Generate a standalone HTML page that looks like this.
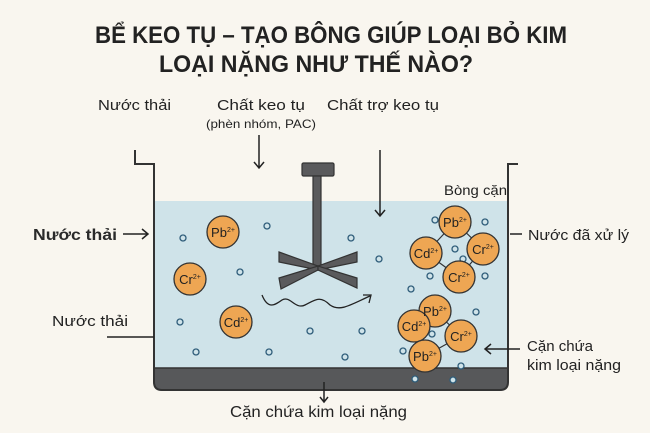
<!DOCTYPE html>
<html><head><meta charset="utf-8"><style>
html,body{margin:0;padding:0;background:#f9f6ef;}
svg{display:block;}
text{font-family:"Liberation Sans",sans-serif;fill:#222;}
</style></head><body>
<svg width="650" height="433" viewBox="0 0 650 433" xmlns="http://www.w3.org/2000/svg">
<rect width="650" height="433" fill="#f9f6ef"/>
<text x="331" y="43" font-size="24" font-weight="bold" text-anchor="middle" textLength="472" lengthAdjust="spacingAndGlyphs">BỂ KEO TỤ – TẠO BÔNG GIÚP LOẠI BỎ KIM</text>
<text x="316" y="72" font-size="24" font-weight="bold" text-anchor="middle" textLength="314" lengthAdjust="spacingAndGlyphs">LOẠI NẶNG NHƯ THẾ NÀO?</text>

<text x="98" y="110" font-size="15" textLength="73" lengthAdjust="spacingAndGlyphs">Nước thải</text>
<text x="217" y="110" font-size="15" textLength="88" lengthAdjust="spacingAndGlyphs">Chất keo tụ</text>
<text x="206" y="128" font-size="12" textLength="110" lengthAdjust="spacingAndGlyphs">(phèn nhóm, PAC)</text>
<text x="327" y="110" font-size="15" textLength="112" lengthAdjust="spacingAndGlyphs">Chất trợ keo tụ</text>

<rect x="154" y="201" width="354" height="167" fill="#cfe3e9"/>
<path d="M154 368 H508 V382 Q508 390 500 390 H162 Q154 390 154 382 Z" fill="#57585a" stroke="#333" stroke-width="1.5"/>
<path d="M135 150 V164 H154 V382 Q154 390 162 390 H500 Q508 390 508 382 V164 H518" fill="none" stroke="#333" stroke-width="2"/>

<g stroke="#222" stroke-width="1.5" fill="none">
<path d="M259 135 V168 M254 162 L259 168 L264 162"/>
<path d="M380 150 V216 M375 210 L380 216 L385 210"/>
<path d="M123 234 H148 M142 229 L148 234 L142 239"/>
<path d="M107 337 H154"/>
<path d="M510 234 H522"/>
<path d="M520 349 H485 M491 344 L485 349 L491 354"/>
<path d="M324 382 V402 M320 397 L324 402 L328 397"/>
</g>

<text x="33" y="240" font-size="16" font-weight="600" textLength="84" lengthAdjust="spacingAndGlyphs" style="font-weight:bold;fill:#2a2a2a">Nước thải</text>
<text x="52" y="326" font-size="15" textLength="76" lengthAdjust="spacingAndGlyphs">Nước thải</text>
<text x="444" y="195" font-size="14" textLength="63" lengthAdjust="spacingAndGlyphs">Bòng cặn</text>
<text x="528" y="240" font-size="15" textLength="101" lengthAdjust="spacingAndGlyphs">Nước đã xử lý</text>
<text x="527" y="351" font-size="15" textLength="66" lengthAdjust="spacingAndGlyphs">Cặn chứa</text>
<text x="527" y="370" font-size="15" textLength="94" lengthAdjust="spacingAndGlyphs">kim loại nặng</text>
<text x="230" y="417" font-size="16" textLength="177" lengthAdjust="spacingAndGlyphs">Cặn chứa kim loại nặng</text>

<g fill="#5a5a5c" stroke="#333" stroke-width="1.2">
<rect x="302" y="163" width="32" height="13" rx="1.5"/>
<rect x="313" y="176" width="8" height="92"/>
<polygon points="279,252 318,266 318,270 279,262"/>
<polygon points="357,252 318,266 318,270 357,262"/>
<polygon points="279,278 318,266 318,270 281,289"/>
<polygon points="357,278 318,266 318,270 357,288"/>
</g>
<path d="M262 295 C268 310 275 305 282 300 C290 295 295 310 305 305 C315 300 320 295 330 305 C340 312 350 305 370 296" fill="none" stroke="#222" stroke-width="1.3"/>
<path d="M363 295 L371 295 L369 303" fill="none" stroke="#222" stroke-width="1.3"/>

<g stroke="#333" stroke-width="1.2">
<line x1="455" y1="222" x2="426" y2="253"/><line x1="455" y1="222" x2="483" y2="249"/>
<line x1="426" y1="253" x2="459" y2="277"/><line x1="483" y1="249" x2="459" y2="277"/>
<line x1="435" y1="311" x2="414" y2="326"/><line x1="435" y1="311" x2="461" y2="336"/>
<line x1="414" y1="326" x2="425" y2="356"/><line x1="461" y1="336" x2="425" y2="356"/>
</g>

<g fill="#cfe3e9" stroke="#2f5d7a" stroke-width="1.3">
<circle cx="183" cy="238" r="3"/><circle cx="267" cy="226" r="3"/><circle cx="240" cy="272" r="3"/>
<circle cx="180" cy="322" r="3"/><circle cx="196" cy="352" r="3"/><circle cx="269" cy="352" r="3"/>
<circle cx="310" cy="331" r="3"/><circle cx="362" cy="331" r="3"/><circle cx="345" cy="357" r="3"/>
<circle cx="351" cy="238" r="3"/><circle cx="379" cy="259" r="3"/><circle cx="435" cy="220" r="3"/>
<circle cx="485" cy="222" r="3"/><circle cx="455" cy="249" r="3"/><circle cx="463" cy="259" r="3"/>
<circle cx="430" cy="276" r="3"/><circle cx="485" cy="276" r="3"/><circle cx="411" cy="289" r="3"/>
<circle cx="476" cy="312" r="3"/><circle cx="432" cy="334" r="3"/><circle cx="403" cy="351" r="3"/>
<circle cx="461" cy="366" r="3"/><circle cx="415" cy="379" r="3"/><circle cx="453" cy="380" r="3"/>
</g>

<g fill="#eea653" stroke="#333" stroke-width="1.3">
<circle cx="223" cy="232" r="16"/><circle cx="190" cy="279" r="16"/><circle cx="236" cy="322" r="16"/>
<circle cx="455" cy="222" r="16"/><circle cx="426" cy="253" r="16"/><circle cx="483" cy="249" r="16"/><circle cx="459" cy="277" r="16"/>
<circle cx="435" cy="311" r="16"/><circle cx="414" cy="326" r="16"/><circle cx="461" cy="336" r="16"/><circle cx="425" cy="356" r="16"/>
</g>
<g font-size="13" text-anchor="middle">
<text x="223" y="237">Pb<tspan font-size="7" dy="-5">2+</tspan></text>
<text x="190" y="284">Cr<tspan font-size="7" dy="-5">2+</tspan></text>
<text x="236" y="327">Cd<tspan font-size="7" dy="-5">2+</tspan></text>
<text x="455" y="227">Pb<tspan font-size="7" dy="-5">2+</tspan></text>
<text x="426" y="258">Cd<tspan font-size="7" dy="-5">2+</tspan></text>
<text x="483" y="254">Cr<tspan font-size="7" dy="-5">2+</tspan></text>
<text x="459" y="282">Cr<tspan font-size="7" dy="-5">2+</tspan></text>
<text x="435" y="316">Pb<tspan font-size="7" dy="-5">2+</tspan></text>
<text x="414" y="331">Cd<tspan font-size="7" dy="-5">2+</tspan></text>
<text x="461" y="341">Cr<tspan font-size="7" dy="-5">2+</tspan></text>
<text x="425" y="361">Pb<tspan font-size="7" dy="-5">2+</tspan></text>
</g>
</svg>
</body></html>
